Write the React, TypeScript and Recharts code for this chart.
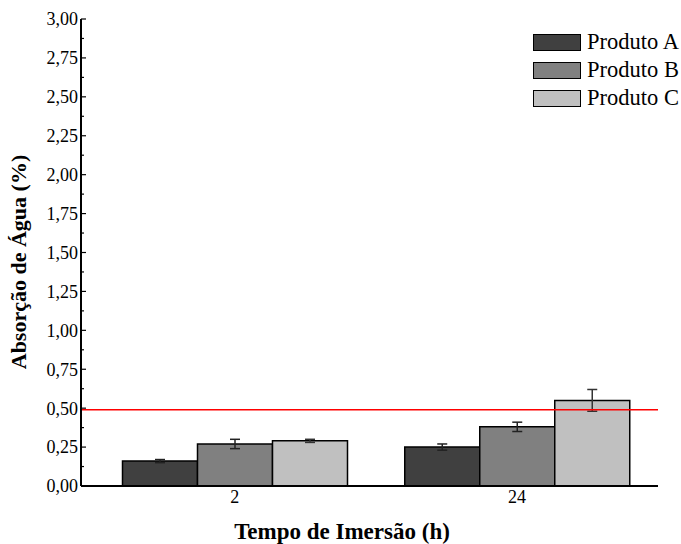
import { Bar, BarChart, ErrorBar, Label, ReferenceLine, XAxis, YAxis } from "recharts";

// tempos de imersão (h)
const TEMPOS = ["2", "24"];
const PRODUTO_A = [0.16, 0.25];
const PRODUTO_B = [0.27, 0.38];
const PRODUTO_C = [0.29, 0.55];
const DESVIO_A = [0.01, 0.02];
const DESVIO_B = [0.03, 0.03];
const DESVIO_C = [0.01, 0.07];
const LIMITE = 0.49;

const Y_TICKS = [
  0, 0.125, 0.25, 0.375, 0.5, 0.625, 0.75, 0.875, 1, 1.125, 1.25, 1.375, 1.5,
  1.625, 1.75, 1.875, 2, 2.125, 2.25, 2.375, 2.5, 2.625, 2.75, 2.875, 3,
];

const SERIES = [
  { key: "a", name: "Produto A", fill: "#404040" },
  { key: "b", name: "Produto B", fill: "#808080" },
  { key: "c", name: "Produto C", fill: "#c0c0c0" },
];

const FONT = '"Liberation Serif", "Times New Roman", serif';

const data = TEMPOS.map((t, i) => ({
  tempo: t,
  a: PRODUTO_A[i],
  b: PRODUTO_B[i],
  c: PRODUTO_C[i],
  errA: DESVIO_A[i],
  errB: DESVIO_B[i],
  errC: DESVIO_C[i],
}));

function YTick(props: any) {
  const { x, y, payload } = props;
  const v = payload.value as number;
  const major = Math.abs(v * 4 - Math.round(v * 4)) < 1e-6;
  return (
    <g>
      <line x1={x + 3} x2={x + 3 + (major ? 5 : 3)} y1={y} y2={y} stroke="#000" strokeWidth={1.2} />
      {major && (
        <text x={x} y={y} dy="0.355em" textAnchor="end" fontSize={18} fontFamily={FONT} fill="#000">
          {v.toFixed(2).replace(".", ",")}
        </text>
      )}
    </g>
  );
}

function LegendBox() {
  return (
    <div
      style={{
        position: "absolute",
        left: 533,
        top: 28,
        fontFamily: FONT,
        fontSize: 22.5,
        color: "#000",
      }}
    >
      {SERIES.map((s) => (
        <div key={s.key} style={{ display: "flex", alignItems: "center", height: 28 }}>
          <div
            style={{
              width: 46,
              height: 15,
              background: s.fill,
              border: "1.5px solid #000",
              marginRight: 6,
            }}
          />
          <span style={{ whiteSpace: "nowrap" }}>{s.name}</span>
        </div>
      ))}
    </div>
  );
}

export default function App() {
  return (
    <div style={{ position: "absolute", left: 0, top: 0, width: 681, height: 544, background: "#fff" }}>
      <BarChart
        width={681}
        height={544}
        data={data}
        margin={{ top: 19, right: 23, bottom: 0, left: 0 }}
        barGap={0}
        barSize={75}
        style={{ fontFamily: FONT }}
      >
        <XAxis
          dataKey="tempo"
          height={58}
          padding={{ left: 12.5, right: 0 }}
          axisLine={{ stroke: "#000", strokeWidth: 2 }}
          tickLine={false}
          tickSize={0}
          tickMargin={4}
          tick={{ fontSize: 18, fill: "#000", fontFamily: FONT }}
        >
          <Label
            content={() => (
              <text x={342} y={539} textAnchor="middle" fontSize={23} fontWeight="bold" fontFamily={FONT} fill="#000">
                Tempo de Imersão (h)
              </text>
            )}
          />
        </XAxis>
        <YAxis
          width={81}
          domain={[0, 3]}
          ticks={Y_TICKS}
          interval={0}
          axisLine={{ stroke: "#000", strokeWidth: 2 }}
          tickLine={false}
          tickSize={0}
          tickMargin={3}
          tick={<YTick />}
        >
          <Label
            content={() => (
              <text
                x={0}
                y={0}
                transform="translate(18 262) rotate(-90)"
                textAnchor="middle"
                dominantBaseline="central"
                fontSize={22}
                fontWeight="bold"
                fontFamily={FONT}
                fill="#000"
              >
                Absorção de Água (%)
              </text>
            )}
          />
        </YAxis>
        <Bar dataKey="a" name="Produto A" fill="#404040" stroke="#000" strokeWidth={1.5} isAnimationActive={false}>
          <ErrorBar dataKey="errA" width={5} stroke="#222" strokeWidth={1.5} />
        </Bar>
        <Bar dataKey="b" name="Produto B" fill="#808080" stroke="#000" strokeWidth={1.5} isAnimationActive={false}>
          <ErrorBar dataKey="errB" width={5} stroke="#222" strokeWidth={1.5} />
        </Bar>
        <Bar dataKey="c" name="Produto C" fill="#c0c0c0" stroke="#000" strokeWidth={1.5} isAnimationActive={false}>
          <ErrorBar dataKey="errC" width={5} stroke="#333" strokeWidth={1.5} />
        </Bar>
        <ReferenceLine y={LIMITE} stroke="#ff0000" strokeWidth={1.5} ifOverflow="extendDomain" />
      </BarChart>
      <LegendBox />
    </div>
  );
}
